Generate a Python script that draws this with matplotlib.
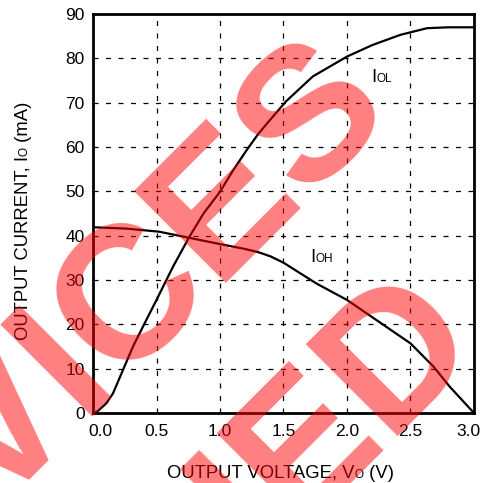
import numpy as np
import matplotlib.pyplot as plt
from matplotlib.transforms import ScaledTranslation

plt.rcParams['font.family'] = ['Liberation Sans', 'DejaVu Sans']

# I_OL curve (output low current vs output voltage)
vol_v = [0.01, 0.04, 0.105, 0.157, 0.236, 0.315, 0.42, 0.50, 0.63, 0.76,
         0.87, 1.00, 1.10, 1.21, 1.30, 1.37, 1.52, 1.73, 2.00, 2.20, 2.42, 2.63,
         2.80, 3.00]
iol_ma = [0.0, 0.5, 2.2, 4.4, 9.7, 15.0, 21.0, 25.5, 33.0, 39.8,
          45.0, 49.9, 54.6, 59.3, 62.9, 65.3, 70.3, 75.9, 80.4, 83.0, 85.3, 86.8,
          87.0, 87.0]

# I_OH curve (output high current vs output voltage)
voh_v = [0.0, 0.26, 0.52, 0.76, 1.00, 1.18, 1.30, 1.40, 1.50, 1.76, 2.00, 2.23,
         2.50, 2.68, 2.81, 3.00]
ioh_ma = [41.9, 41.6, 40.9, 39.5, 38.1, 37.1, 36.3, 35.3, 33.9, 29.2, 25.5, 21.0,
          15.7, 10.5, 5.9, 0.0]

xticks = [0.0, 0.5, 1.0, 1.5, 2.0, 2.5, 3.0]
xtick_labels = ['0.0', '0.5', '1.0', '1.5', '2.0', '2.5', '3.0']
yticks = [0, 10, 20, 30, 40, 50, 60, 70, 80, 90]

W, H = 481, 483
fig = plt.figure(figsize=(W / 100, H / 100), dpi=100)
ax = fig.add_axes([93 / W, 1 - 413 / H, (474 - 93) / W, (413 - 14) / H])

ax.plot(vol_v, iol_ma, color='black', lw=1.6, zorder=3)
ax.plot(voh_v, ioh_ma, color='black', lw=1.6, zorder=3)

ax.set_xlim(0, 3)
ax.set_ylim(0, 90)
ax.set_xticks(xticks)
ax.set_xticklabels(xtick_labels)
ax.set_yticks(yticks)
ax.tick_params(length=0, labelsize=12.5, colors='black')
ax.tick_params(axis='x', pad=8)
ax.tick_params(axis='y', pad=6)
ax.grid(True, color='black', lw=0.9, linestyle=(0, (4, 6)))
for s in ax.spines.values():
    s.set_linewidth(2)

# nudge the end labels inward like the original
labs = ax.get_xticklabels()
labs[0].set_transform(labs[0].get_transform() + ScaledTranslation(0.07, 0, fig.dpi_scale_trans))
labs[-1].set_transform(labs[-1].get_transform() + ScaledTranslation(-0.06, 0, fig.dpi_scale_trans))


def chain_h(parts, x, y, coords):
    # horizontal run of text pieces sharing one baseline
    prev = None
    for txt, size in parts:
        if prev is None:
            prev = ax.annotate(txt, (x, y), xycoords=coords, fontsize=size,
                               ha='left', va='baseline', annotation_clip=False)
        else:
            prev = ax.annotate(txt, (1, y), xycoords=(prev, coords), fontsize=size,
                               ha='left', va='baseline', annotation_clip=False)
    return prev


def chain_v(parts, x, y):
    prev = None
    for txt, size in parts:
        if prev is None:
            prev = ax.annotate(txt, (x, y), xycoords='figure fraction', fontsize=size,
                               rotation=90, rotation_mode='anchor',
                               ha='left', va='baseline', annotation_clip=False)
        else:
            prev = ax.annotate(txt, (x, 1), xycoords=('figure fraction', prev), fontsize=size,
                               rotation=90, rotation_mode='anchor',
                               ha='left', va='baseline', annotation_clip=False)
    return prev


chain_h([('OUTPUT VOLTAGE, V', 13.3), ('O', 8.5), (' (V)', 13.3)],
        167 / W, 1 - 478 / H, 'figure fraction')
chain_v([('OUTPUT CURRENT, I', 13.3), ('O', 8.5), (' (mA)', 13.3)],
        28 / W, 1 - 340 / H)
chain_h([('I', 13.3), ('OL', 8.5)], 2.194, 74.7, 'data')
chain_h([('I', 13.3), ('OH', 8.5)], 1.714, 34.1, 'data')

# watermark
fig.text(99 / W, 1 - 397 / H, 'DEVICES', fontsize=136, fontweight='bold',
         color='red', alpha=0.5, rotation=45, rotation_mode='anchor',
         ha='center', va='baseline', zorder=10)
fig.text(482 / W, 1 - 339 / H, 'DISCONTINUED', fontsize=136, fontweight='bold',
         color='red', alpha=0.5, rotation=45, rotation_mode='anchor',
         ha='right', va='baseline', zorder=10)

fig.savefig('out.png', dpi=100)
